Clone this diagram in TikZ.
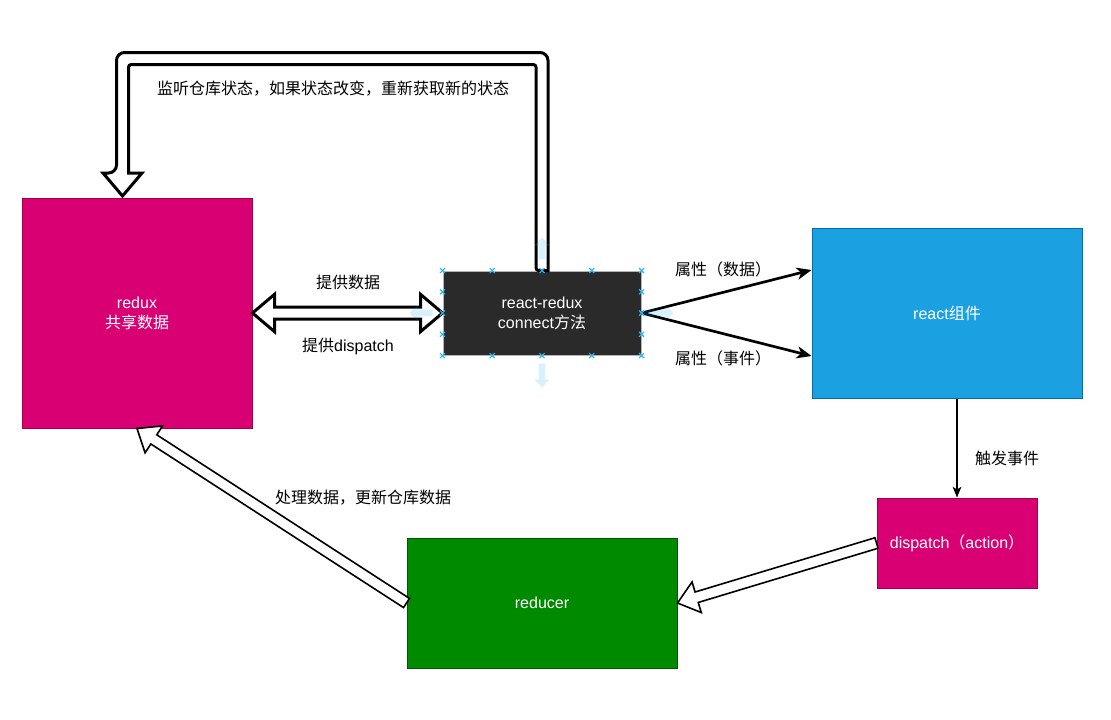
\documentclass[tikz,border=0pt]{standalone}
\usepackage{fontspec}
\setmainfont{Liberation Sans}
\newfontfamily\cjk{Noto Sans CJK SC}
\usetikzlibrary{calc,arrows.meta}

\definecolor{reduxfill}{HTML}{D80073}
\definecolor{reduxline}{HTML}{A50040}
\definecolor{reactfill}{HTML}{1BA1E2}
\definecolor{reactline}{HTML}{006EAF}
\definecolor{reducerfill}{HTML}{008A00}
\definecolor{reducerline}{HTML}{005700}
\definecolor{connfill}{HTML}{2A2A2A}
\definecolor{connline}{HTML}{B4B4B4}
\definecolor{handleblue}{HTML}{29B6F2}

\tikzset{
  box/.style={draw, line width=0.75pt, inner sep=0pt, align=center, text=white,
    font=\fontsize{12pt}{15pt}\selectfont},
  lbl/.style={inner sep=0pt, align=center, text=black, font=\fontsize{12pt}{15pt}\selectfont},
  flexthick/.style={draw=black, fill=white, line width=2.25pt, line join=miter},
  flexthin/.style={draw=black, fill=white, line width=1.2pt, line join=miter},
  conn/.style={draw=black, line width=2pt, -{Stealth[length=11pt,width=9pt,inset=3pt]}},
  connthin/.style={draw=black, line width=1pt, -{Stealth[length=8pt,width=6.5pt,inset=2pt]}},
  handle/.style={draw=handleblue, line width=0.8pt},
  hover/.style={fill=handleblue, fill opacity=0.18, draw=none},
}

% block arrow outline from #2 to #3: shaft half width #4, head half width #5, head length #6
\newcommand\flexone[6]{%
  \path[#1] let \p1=($(#3)-(#2)$), \n1={atan2(\y1,\x1)}, \n2={veclen(\x1,\y1)-#6} in
    ($(#2)+(\n1+90:#4)$) -- ($(#2)+(\n1:\n2)+(\n1+90:#4)$) -- ($(#2)+(\n1:\n2)+(\n1+90:#5)$)
    -- (#3) -- ($(#2)+(\n1:\n2)+(\n1-90:#5)$) -- ($(#2)+(\n1:\n2)+(\n1-90:#4)$)
    -- ($(#2)+(\n1-90:#4)$) -- cycle;}

% block arrow outline with heads at both ends
\newcommand\flextwo[6]{%
  \path[#1] let \p1=($(#3)-(#2)$), \n1={atan2(\y1,\x1)}, \n2={veclen(\x1,\y1)-#6} in
    (#2) -- ($(#2)+(\n1:#6)+(\n1+90:#5)$) -- ($(#2)+(\n1:#6)+(\n1+90:#4)$)
    -- ($(#2)+(\n1:\n2)+(\n1+90:#4)$) -- ($(#2)+(\n1:\n2)+(\n1+90:#5)$)
    -- (#3) -- ($(#2)+(\n1:\n2)+(\n1-90:#5)$) -- ($(#2)+(\n1:\n2)+(\n1-90:#4)$)
    -- ($(#2)+(\n1:#6)+(\n1-90:#4)$) -- ($(#2)+(\n1:#6)+(\n1-90:#5)$) -- cycle;}

\begin{document}
\begin{tikzpicture}[x=0.75pt, y=-0.75pt]
\useasboundingbox[fill=white] (0,0) rectangle (1111,719);

% boxes
\node[box, fill=reduxfill, draw=reduxline, minimum width=172.5pt, minimum height=172.5pt]
  (redux) at (137,313) {redux\\{\cjk 共享数据}};
\node[box, fill=connfill, draw=connline, minimum width=148.5pt, minimum height=63pt]
  (rr) at (542,313) {react-redux\\connect{\cjk 方法}};
\node[box, fill=reactfill, draw=reactline, minimum width=202.5pt, minimum height=127.5pt]
  (rc) at (947,313) {react{\cjk 组件}};
\node[box, fill=reduxfill, draw=reduxline, minimum width=120pt, minimum height=67.5pt]
  (dp) at (957,543) {dispatch{\cjk （}action{\cjk ）}};
\node[box, fill=reducerfill, draw=reducerline, minimum width=202.5pt, minimum height=97.5pt]
  (red) at (542,603) {reducer};

% labels
\node[lbl] (lwatch) at (333,89) {\cjk 监听仓库状态，如果状态改变，重新获取新的状态};
\node[lbl] (ldata) at (348,282) {\cjk 提供数据};
\node[lbl] (ldisp) at (348,346) {{\cjk 提供}dispatch};
\node[lbl] (lpropd) at (723,269) {\cjk 属性（数据）};
\node[lbl] (lprope) at (723,358) {\cjk 属性（事件）};
\node[lbl] (ltrig) at (1007,458) {\cjk 触发事件};
\node[lbl] (lproc) at (363,498) {\cjk 处理数据，更新仓库数据};

% store subscription loop back into redux
\coordinate (turnL) at (122.5,58.5);
\coordinate (tipL) at (122.5,196);
\coordinate (turnR) at (rr.north |- turnL);
\draw[flexthick]
  ($(rr.north)+(6,0)$) [rounded corners=6pt] -- ($(turnR)+(6,-6)$) -- ($(turnL)+(-6,-6)$)
  -- ($(tipL)+(-6,-23)$) [sharp corners] -- ($(tipL)+(-19.5,-23)$) -- (tipL)
  -- ($(tipL)+(19.5,-23)$) -- ($(tipL)+(6,-23)$) [rounded corners=2pt]
  -- ($(turnL)+(6,6)$) -- ($(turnR)+(-6,6)$) -- ($(rr.north)+(-6,0)$) [sharp corners] -- cycle;

% redux <-> connect
\flextwo{flexthick}{redux.east}{rr.west}{4.5pt}{14pt}{16.5pt}

% connect -> component props
\coordinate (rcA) at ($(rc.west)+(0,-43)$);
\coordinate (rcB) at ($(rc.west)+(0,43)$);
\draw[conn] (rr.east) -- (rcA);
\draw[conn] (rr.east) -- (rcB);

% component -> dispatch
\draw[connthin] (rc.south -| dp.north) -- (dp.north);

% dispatch -> reducer -> redux
\flexone{flexthin}{dp.west}{red.east}{4.1pt}{12pt}{15pt}
\flexone{flexthin}{red.west}{redux.south}{4.1pt}{12pt}{15pt}

% selection handles on the connect box
\foreach \t in {0,0.25,0.5,0.75,1} {
  \draw[handle] ($(rr.north west)!\t!(rr.north east)$) +(-2.5,-2.5) -- +(2.5,2.5) +(-2.5,2.5) -- +(2.5,-2.5);
  \draw[handle] ($(rr.south west)!\t!(rr.south east)$) +(-2.5,-2.5) -- +(2.5,2.5) +(-2.5,2.5) -- +(2.5,-2.5);
}
\foreach \t in {0.25,0.5,0.75} {
  \draw[handle] ($(rr.north west)!\t!(rr.south west)$) +(-2.5,-2.5) -- +(2.5,2.5) +(-2.5,2.5) -- +(2.5,-2.5);
  \draw[handle] ($(rr.north east)!\t!(rr.south east)$) +(-2.5,-2.5) -- +(2.5,2.5) +(-2.5,2.5) -- +(2.5,-2.5);
}

% hover arrows around the connect box
\coordinate (hvNa) at ($(rr.north)+(0,-11)$);
\coordinate (hvNb) at ($(rr.north)+(0,-33)$);
\coordinate (hvSa) at ($(rr.south)+(0,8)$);
\coordinate (hvSb) at ($(rr.south)+(0,32)$);
\coordinate (hvWa) at ($(rr.west)+(-10,0)$);
\coordinate (hvWb) at ($(rr.west)+(-33,0)$);
\coordinate (hvEa) at ($(rr.east)+(1,0)$);
\coordinate (hvEb) at ($(rr.east)+(32,0)$);
\flexone{hover}{hvNa}{hvNb}{2.6pt}{5.6pt}{6pt}
\flexone{hover}{hvSa}{hvSb}{2.6pt}{5.6pt}{6pt}
\flexone{hover}{hvWa}{hvWb}{2.6pt}{5.6pt}{6pt}
\flexone{hover}{hvEa}{hvEb}{2.6pt}{5.6pt}{6pt}
\end{tikzpicture}
\end{document}
